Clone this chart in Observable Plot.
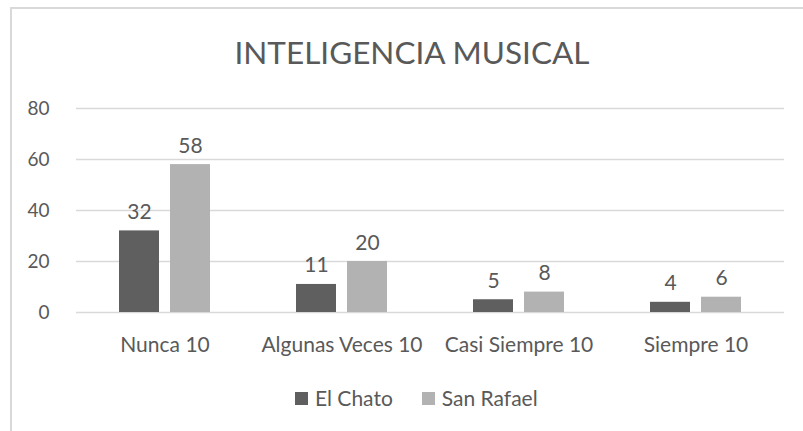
<!DOCTYPE html>
<html>
<head>
<meta charset="utf-8">
<script src="https://cdn.jsdelivr.net/npm/d3@7"></script>
<script src="https://cdn.jsdelivr.net/npm/@observablehq/plot@0.6"></script>
<style>
  html, body { margin: 0; padding: 0; background: #fff; }
  #wrap { position: relative; width: 803px; height: 431px; overflow: hidden; font-family: Lato, "Open Sans", sans-serif; color: #595959; }
  #frame { position: absolute; left: 10px; top: 7px; width: 900px; height: 600px; border-top: 2px solid #d9d9d9; border-left: 2px solid #d9d9d9; }
  #chart { position: absolute; left: 0; top: 0; }
  #title { position: absolute; left: 0; width: 824px; top: 32px; text-align: center; font-size: 31.5px; font-weight: 400; line-height: 40px; white-space: nowrap; }
  #legend { position: absolute; left: 295px; top: 385px; display: flex; align-items: center; font-size: 21px; line-height: 26px; white-space: nowrap; }
  .sw { display: inline-block; width: 13px; height: 13px; margin-right: 7px; }
  .item { display: flex; align-items: center; margin-right: 29px; }
</style>
</head>
<body>
<div id="wrap">
  <div id="frame"></div>
  <div id="chart"></div>
  <div id="title">INTELIGENCIA MUSICAL</div>
  <div id="legend"></div>
</div>
<script>
const categories = ["Nunca 10", "Algunas Veces 10", "Casi Siempre 10", "Siempre 10"];
const series = ["El Chato", "San Rafael"];
const elChato = [32, 11, 5, 4];
const sanRafael = [58, 20, 8, 6];
const yTicks = [0, 20, 40, 60, 80];
const colors = ["#5f5f5f", "#b2b2b2"];

const data = [];
categories.forEach((c, i) => {
  data.push({category: c, series: series[0], value: elChato[i]});
  data.push({category: c, series: series[1], value: sanRafael[i]});
});

const plot = Plot.plot({
  width: 803,
  height: 431,
  marginTop: 108,
  marginBottom: 119,
  marginLeft: 75,
  marginRight: 19,
  style: {fontFamily: "Lato, 'Open Sans', sans-serif", color: "#595959", background: "transparent"},
  fx: {domain: categories, padding: 0, label: null},
  x: {domain: series, paddingInner: 0.216, paddingOuter: 0.843, axis: null},
  y: {domain: [0, 80], label: null},
  color: {domain: series, range: colors},
  marks: [
    Plot.gridY(yTicks, {stroke: "#d9d9d9", strokeOpacity: 1, strokeWidth: 1.5}),
    Plot.barY(data, {fx: "category", x: "series", y: "value", fill: "series"}),
    Plot.axisY(yTicks, {tickSize: 0, tickPadding: 27, fontSize: 19, fill: "#595959", label: null}),
    Plot.axisFx({anchor: "bottom", tickSize: 0, tickPadding: 25, fontSize: 21, fill: "#595959", label: null}),
    Plot.text(data, {fx: "category", x: "series", y: "value", text: d => String(d.value), lineAnchor: "bottom", dy: -12, fontSize: 21, fill: "#595959"})
  ]
});
document.getElementById("chart").appendChild(plot);

const legend = document.getElementById("legend");
series.forEach((s, i) => {
  const item = document.createElement("div");
  item.className = "item";
  const sw = document.createElement("span");
  sw.className = "sw";
  sw.style.background = colors[i];
  item.appendChild(sw);
  item.appendChild(document.createTextNode(s));
  legend.appendChild(item);
});
</script>
</body>
</html>
